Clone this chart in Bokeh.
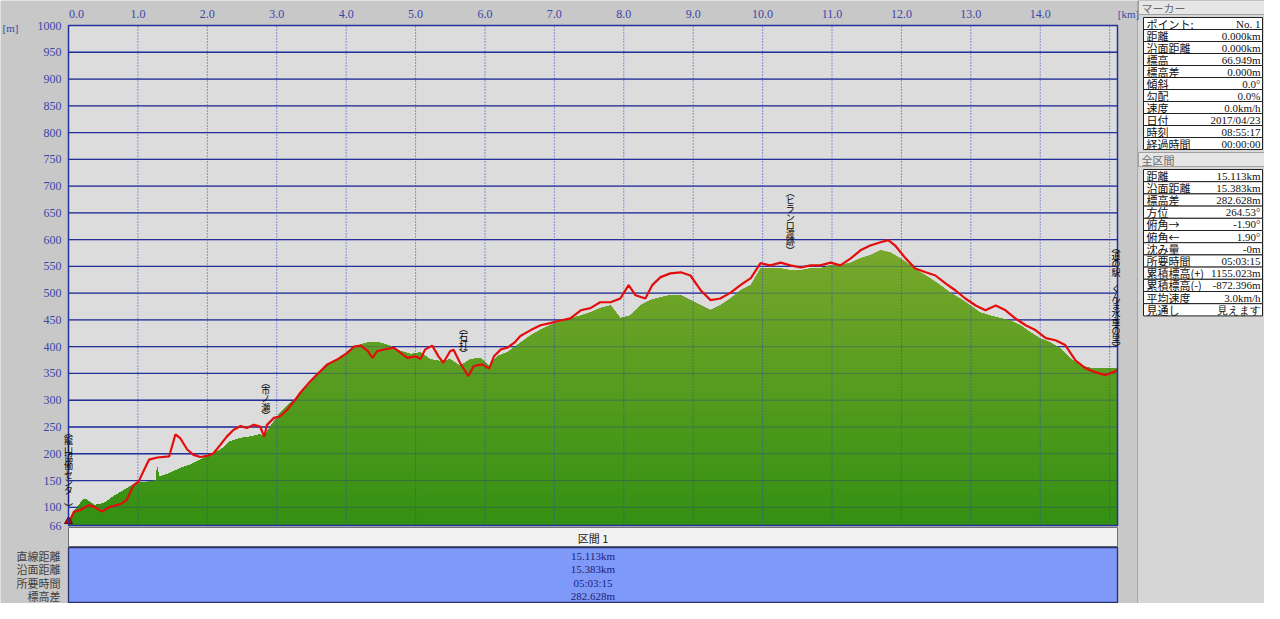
import numpy as np
from bokeh.plotting import figure
from bokeh.models import Range1d
from bokeh.core.properties import value
from bokeh.embed import file_html
from bokeh.resources import INLINE

# ---------------- data ----------------
route_km = [0.00, 0.08, 0.17, 0.29, 0.37, 0.48, 0.60, 0.75, 0.84, 0.94, 1.01, 1.09, 1.16, 1.28,
            1.45, 1.54, 1.61, 1.71, 1.80, 1.90, 2.00, 2.09, 2.19, 2.28, 2.38, 2.48, 2.57, 2.67,
            2.76, 2.82, 2.86, 2.96, 3.05, 3.15, 3.25, 3.34, 3.46, 3.58, 3.73, 3.87, 4.02, 4.11,
            4.21, 4.31, 4.38, 4.45, 4.59, 4.69, 4.78, 4.88, 5.00, 5.07, 5.14, 5.24, 5.33, 5.40,
            5.50, 5.55, 5.64, 5.76, 5.84, 5.96, 6.06, 6.13, 6.23, 6.32, 6.42, 6.51,
            6.66, 6.80, 6.94, 7.09, 7.23, 7.38, 7.52, 7.66, 7.81, 7.95, 8.07, 8.17, 8.31, 8.41,
            8.53, 8.67, 8.82, 8.96, 9.11, 9.25, 9.39, 9.54, 9.68, 9.83, 9.97, 10.11, 10.26,
            10.40, 10.55, 10.69, 10.83, 10.98, 11.12, 11.27, 11.41, 11.55, 11.70, 11.81, 11.91,
            12.06, 12.20, 12.35, 12.49, 12.64, 12.78, 12.92, 13.07, 13.21, 13.36, 13.50, 13.64,
            13.79, 13.93, 14.08, 14.22, 14.36, 14.51, 14.65, 14.80, 14.94, 15.04, 15.113]
route_m = [70, 92, 95, 104, 101, 92, 101, 106, 114, 142, 148, 170, 189, 193,
           195, 236, 229, 208, 198, 194, 196, 201, 217, 232, 245, 252, 248, 254,
           251, 232, 254, 267, 270, 282, 298, 314, 332, 348, 367, 376, 389, 400,
           402, 392, 379, 392, 396, 398, 389, 379, 382, 377, 395, 402, 382, 370,
           392, 394, 370, 345, 364, 367, 359, 382, 395, 398, 407, 420,
           431, 440, 444, 449, 453, 468, 472, 483, 483, 490, 515, 496, 490, 515,
           530, 537, 539, 533, 505, 487, 490, 501, 515, 528, 556, 552, 557,
           552, 548, 552, 552, 557, 552, 565, 580, 589, 595, 599, 589,
           565, 546, 539, 533, 518, 505, 490, 477, 468, 477, 468, 453,
           440, 431, 416, 412, 403, 374, 360, 352, 347, 352, 356]

terrain_km = [0.00, 0.08, 0.17, 0.22, 0.26, 0.37, 0.51, 0.65, 0.80, 0.89, 0.99, 1.18, 1.26,
              1.28, 1.30, 1.47, 1.61, 1.75, 1.90, 2.04, 2.19, 2.33, 2.48, 2.62, 2.76, 2.82,
              2.91, 3.05, 3.20, 3.34, 3.49, 3.63, 3.77, 3.92, 4.06, 4.21, 4.35, 4.50, 4.64,
              4.78, 4.93, 5.07, 5.21, 5.36, 5.50, 5.64, 5.79, 5.93, 6.06, 6.18, 6.32, 6.51,
              6.66, 6.80, 6.94, 7.09, 7.23, 7.38, 7.52, 7.66, 7.81, 7.95, 8.09, 8.24, 8.38,
              8.53, 8.67, 8.82, 8.96, 9.11, 9.25, 9.39, 9.54, 9.68, 9.83, 9.97, 10.11, 10.26,
              10.40, 10.55, 10.69, 10.83, 10.98, 11.12, 11.27, 11.41, 11.55, 11.70, 11.84,
              11.98, 12.13, 12.27, 12.41, 12.56, 12.70, 12.84, 12.99, 13.13, 13.28, 13.42,
              13.56, 13.71, 13.85, 13.99, 14.14, 14.28, 14.43, 14.57, 14.72, 14.86, 15.113]
terrain_m = [67, 92, 107, 115, 114, 104, 107, 120, 132, 139, 145, 148, 150,
             176, 156, 164, 173, 179, 189, 198, 207, 223, 229, 232, 236, 232,
             251, 276, 295, 311, 332, 354, 370, 379, 395, 404, 409, 407, 401,
             392, 386, 389, 376, 373, 376, 364, 376, 379, 364, 382, 389, 407,
             421, 431, 440, 446, 453, 458, 464, 472, 477, 453, 458, 477, 487,
             492, 496, 496, 487, 477, 468, 477, 490, 505, 515, 546, 546, 546,
             543, 543, 546, 546, 552, 552, 557, 565, 571, 580, 576,
             565, 552, 539, 528, 515, 501, 490, 477, 464, 458, 453,
             449, 440, 427, 416, 408, 397, 378, 365, 360, 360, 360]

x_ticks = [0, 1, 2, 3, 4, 5, 6, 7, 8, 9, 10, 11, 12, 13, 14, 15]
x_tick_labels = ["0.0", "1.0", "2.0", "3.0", "4.0", "5.0", "6.0", "7.0", "8.0", "9.0",
                 "10.0", "11.0", "12.0", "13.0", "14.0"]
y_ticks = [66, 100, 150, 200, 250, 300, 350, 400, 450, 500, 550, 600, 650, 700, 750,
           800, 850, 900, 950, 1000]

places = ["(龍山協働センター)", "(市ノ瀬)", "(石打)", "(ヒランロ渡跡)", "(道の駅 くんま水車の里)"]
place_km = [0.0, 2.84, 5.69, 10.40, 15.09]
place_top_m = [252, 346, 446, 701, 598]

section_title = "区間 1"
section_labels = ["直線距離", "沿面距離", "所要時間", "標高差"]
section_values = ["15.113km", "15.383km", "05:03:15", "282.628m"]
total_km = 15.113

marker_title = "マーカー"
marker_labels = ["ポイント:", "距離", "沿面距離", "標高", "標高差", "傾斜", "勾配", "速度",
                 "日付", "時刻", "経過時間"]
marker_values = ["No. 1", "0.000km", "0.000km", "66.949m", "0.000m", "0.0°", "0.0%",
                 "0.0km/h", "2017/04/23", "08:55:17", "00:00:00"]
total_title = "全区間"
total_labels = ["距離", "沿面距離", "標高差", "方位", "俯角→", "俯角←", "沈み量", "所要時間",
                "累積標高(+)", "累積標高(-)", "平均速度", "見通し"]
total_values = ["15.113km", "15.383km", "282.628m", "264.53°", "-1.90°", "1.90°", "-0m",
                "05:03:15", "1155.023m", "-872.396m", "3.0km/h", "見えます"]

# ---------------- layout constants (pixels) ----------------
W, H = 1264, 603
X0, X1 = 68, 1117
YT, YB = 25, 525
kpx = (X1 - X0) / total_km
mpx = (YB - YT) / (y_ticks[-1] - y_ticks[0])

SERIF = value("Liberation Serif")
JP = value("Noto Sans CJK JP")
AXIS_BLUE = "#3a46a8"
NAVY = "#24309a"

p = figure(width=W, height=H, x_range=Range1d(0, W), y_range=Range1d(H, 0),
           x_axis_location=None, y_axis_location=None, toolbar_location=None,
           output_backend="svg", min_border=0, title=None,
           background_fill_color="#c8c8c8", border_fill_color="#c8c8c8",
           outline_line_color=None)
p.grid.visible = False
p.extra_x_ranges = {"km": Range1d(-X0 / kpx, (W - X0) / kpx)}
p.extra_y_ranges = {"m": Range1d(y_ticks[0] - (H - YB) / mpx, y_ticks[-1] + YT / mpx)}
KM = dict(x_range_name="km", y_range_name="m")

# ---------------- right info panel background ----------------
PL, PR = 1137, W
p.quad(left=[PL], right=[PR], top=[0], bottom=[H], fill_color="#d6d6d6", line_color=None)
p.segment(x0=[PL], x1=[PL], y0=[0], y1=[H], line_color="#a8a8a8", line_width=1)

# plot area background
p.quad(left=[x_ticks[0]], right=[total_km], bottom=[y_ticks[0]], top=[y_ticks[-1]],
       fill_color="#dcdcdc", line_color=None, **KM)

# horizontal grid (under fill)
hy = y_ticks[1:-1]
p.segment(x0=[0] * len(hy), x1=[total_km] * len(hy), y0=hy, y1=hy,
          line_color=NAVY, line_width=1.3, **KM)

# terrain fill with vertical colour gradient (stacked bands)
tk = np.array(terrain_km)
tm = np.array(terrain_m, dtype=float)
c_bot = np.array([50, 144, 18])
c_top = np.array([122, 168, 44])
def grad(level):
    f = (level - 66) / (600 - 66)
    f = min(max(f, 0), 1)
    c = c_bot + (c_top - c_bot) * f
    return "#%02x%02x%02x" % tuple(int(round(v)) for v in c)

p.varea(x=tk, y1=np.full_like(tm, y_ticks[0]), y2=tm, fill_color=grad(620), **KM)
for lvl in range(600, 66, -12):
    p.varea(x=tk, y1=np.full_like(tm, y_ticks[0]), y2=np.minimum(tm, lvl),
            fill_color=grad(lvl), **KM)

# grid over the fill (faint)
p.segment(x0=[0] * len(hy), x1=[total_km] * len(hy), y0=hy, y1=hy,
          line_color=NAVY, line_width=1.0, line_alpha=0.35, **KM)
vx = x_ticks[1:]
p.segment(x0=vx, x1=vx, y0=[y_ticks[0]] * len(vx), y1=[y_ticks[-1]] * len(vx),
          line_color="#3444c4", line_width=1, line_dash="1 2", **KM)

# route elevation line
p.line(route_km, route_m, line_color="#e40d0d", line_width=2.2, **KM)

# start marker
p.scatter([route_km[0]], [route_m[0] + 4], marker="triangle", size=8,
          fill_color="#e00000", line_color="#600000", **KM)

# frame border
p.quad(left=[x_ticks[0]], right=[total_km], bottom=[y_ticks[0]], top=[y_ticks[-1]],
       fill_color=None, line_color=NAVY, line_width=1.5, **KM)

# x tick labels
p.text(x=x_ticks[:len(x_tick_labels)], y=[13] * len(x_tick_labels), text=x_tick_labels,
       x_range_name="km", text_align="center", text_baseline="middle",
       x_offset=[8] + [0] * (len(x_tick_labels) - 1),
       text_font=SERIF, text_font_size="12px", text_color=AXIS_BLUE)
# y tick labels
p.text(x=[61] * len(y_ticks), y=y_ticks, text=[str(v) for v in y_ticks],
       y_range_name="m", text_align="right", text_baseline="middle",
       text_font=SERIF, text_font_size="12px", text_color=AXIS_BLUE)
p.text(x=[2], y=[27], text=["[m]"], text_align="left", text_baseline="middle",
       text_font=SERIF, text_font_size="11px", text_color=AXIS_BLUE)
p.text(x=[1128], y=[13], text=["[km]"], text_align="center", text_baseline="middle",
       text_font=SERIF, text_font_size="11px", text_color=AXIS_BLUE)

# vertical place labels
def vertical(s):
    s = s.replace("(", "︵").replace(")", "︶").replace("ー", "︱").replace(" ", "　")
    return "\n".join(list(s))
p.text(x=place_km, y=place_top_m, text=[vertical(s) for s in places], **KM,
       text_align="center", text_baseline="top", text_font=JP, text_font_size="9px",
       text_line_height=0.64, text_color="#000000")

# ---------------- section table below chart ----------------
p.quad(left=[0], right=[total_km], top=[527], bottom=[546], x_range_name="km",
       fill_color="#f2f2f2", line_color="#707070", line_width=1)
p.quad(left=[0], right=[total_km], top=[547], bottom=[602], x_range_name="km",
       fill_color="#7f99f8", line_color="#28306a", line_width=1.3)
p.text(x=[total_km / 2], y=[537], text=[section_title], x_range_name="km",
       text_align="center", text_baseline="middle", text_font=JP,
       text_font_size="11px", text_color="#202020")
rows_y = [555, 568.5, 582, 595.5]
p.text(x=[total_km / 2] * 4, y=rows_y, text=section_values, x_range_name="km",
       text_align="center", text_baseline="middle", text_font=SERIF,
       text_font_size="11px", text_color="#1c2278")
p.text(x=[60] * 4, y=rows_y, text=section_labels, text_align="right",
       text_baseline="middle", text_font=JP, text_font_size="11px", text_color="#404040")

# ---------------- right info panel tables ----------------
TL, TR = 1143, 1262
def block(title, labels, values, top, pitch):
    p.quad(left=[PL + 1], right=[PR], top=[top], bottom=[top + 14],
           fill_color="#e6e6e6", line_color="#a0a0a0", line_width=1)
    p.text(x=[PL + 4], y=[top + 7.5], text=[title], text_align="left",
           text_baseline="middle", text_font=JP, text_font_size="11px",
           text_color="#6a6a6a")
    n = len(labels)
    t0 = top + 17
    tops = [t0 + pitch * i for i in range(n)]
    bots = [t0 + pitch * (i + 1) for i in range(n)]
    p.quad(left=[TL] * n, right=[TR] * n, top=tops, bottom=bots,
           fill_color="white", line_color="#202020", line_width=1)
    mids = [t + pitch / 2 for t in tops]
    p.text(x=[TL + 3] * n, y=mids, text=labels, text_align="left",
           text_baseline="middle", text_font=JP, text_font_size="11px",
           text_color="#111111")
    p.text(x=[TR - 2] * n, y=mids, text=values, text_align="right",
           text_baseline="middle", text_font=SERIF, text_font_size="11px",
           text_color="#111111")
    return t0 + pitch * n

end1 = block(marker_title, marker_labels, marker_values, 0, 12)
block(total_title, total_labels, total_values, end1 + 3, 12.2)

open("out.html", "w").write(file_html(p, INLINE))
